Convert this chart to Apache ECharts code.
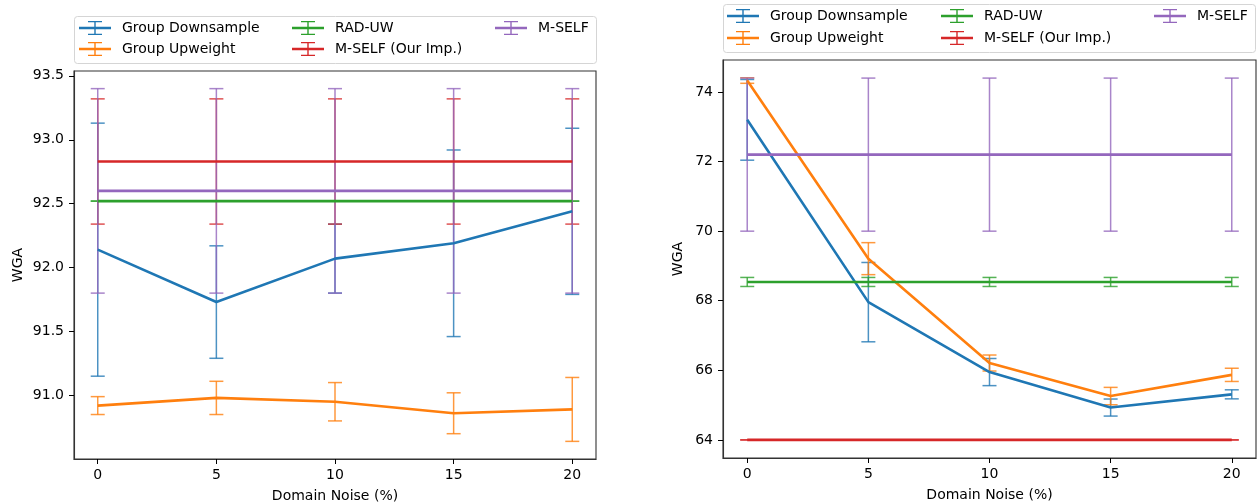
<!DOCTYPE html>
<html>
<head>
<meta charset="utf-8">
<script src="https://cdn.jsdelivr.net/npm/echarts@6/dist/echarts.min.js"></script>
<style>
html,body{margin:0;padding:0;background:#fff;}
#chart{width:1257px;height:504px;}
</style>
</head>
<body>
<div id="chart"></div>
<script>
// ---- data ----
const noise = [0, 5, 10, 15, 20];
const seriesNames = ['Group Downsample', 'Group Upweight', 'RAD-UW', 'M-SELF (Our Imp.)', 'M-SELF'];
const colors = ['#1f77b4', '#ff7f0e', '#2ca02c', '#d62728', '#9467bd'];
const xTicks = [0, 5, 10, 15, 20];

// left panel
const gdMeanL = [92.14, 91.73, 92.07, 92.19, 92.44];
const gdErrL = [0.99, 0.44, 0.27, 0.73, 0.65];
const guMeanL = [90.92, 90.98, 90.95, 90.86, 90.89];
const guErrL = [0.07, 0.13, 0.15, 0.16, 0.25];
const radMeanL = [92.52, 92.52, 92.52, 92.52, 92.52];
const radErrL = [0, 0, 0, 0, 0];
const oursMeanL = [92.83, 92.83, 92.83, 92.83, 92.83];
const oursErrL = [0.49, 0.49, 0.49, 0.49, 0.49];
const mselfMeanL = [92.6, 92.6, 92.6, 92.6, 92.6];
const mselfErrL = [0.8, 0.8, 0.8, 0.8, 0.8];
const yTicksL = [91.0, 91.5, 92.0, 92.5, 93.0, 93.5];

// right panel
const gdMeanR = [73.2, 67.96, 65.95, 64.93, 65.31];
const gdErrR = [1.16, 1.14, 0.39, 0.245, 0.13];
const guMeanR = [74.33, 69.21, 66.21, 65.26, 65.87];
const guErrR = [0.08, 0.46, 0.23, 0.25, 0.19];
const radMeanR = [68.54, 68.54, 68.54, 68.54, 68.54];
const radErrR = [0.13, 0.13, 0.13, 0.13, 0.13];
const oursMeanR = [64.0, 64.0, 64.0, 64.0, 64.0];
const oursErrR = [0, 0, 0, 0, 0];
const mselfMeanR = [72.2, 72.2, 72.2, 72.2, 72.2];
const mselfErrR = [2.2, 2.2, 2.2, 2.2, 2.2];
const yTicksR = [64, 66, 68, 70, 72, 74];

// ---- build ----
const FONT = 'DejaVu Sans';
const panels = [
  {means: [gdMeanL, guMeanL, radMeanL, oursMeanL, mselfMeanL], errs: [gdErrL, guErrL, radErrL, oursErrL, mselfErrL]},
  {means: [gdMeanR, guMeanR, radMeanR, oursMeanR, mselfMeanR], errs: [gdErrR, guErrR, radErrR, oursErrR, mselfErrR]}
];

function errRender(color) {
  return function (params, api) {
    const x = api.value(0), lo = api.value(1), hi = api.value(2);
    const p1 = api.coord([x, lo]);
    const p2 = api.coord([x, hi]);
    const style = {stroke: color, lineWidth: 1.5, opacity: 0.8};
    const cw = 7;
    return {
      type: 'group',
      children: [
        {type: 'line', shape: {x1: p1[0], y1: p1[1], x2: p2[0], y2: p2[1]}, style: style},
        {type: 'line', shape: {x1: p1[0] - cw, y1: p1[1], x2: p1[0] + cw, y2: p1[1]}, style: style},
        {type: 'line', shape: {x1: p2[0] - cw, y1: p2[1], x2: p2[0] + cw, y2: p2[1]}, style: style}
      ]
    };
  };
}

const series = [];
panels.forEach(function (p, pi) {
  seriesNames.forEach(function (name, si) {
    series.push({
      name: name,
      type: 'custom',
      xAxisIndex: pi, yAxisIndex: pi,
      renderItem: errRender(colors[si]),
      encode: {x: 0, y: [1, 2]},
      data: noise.map(function (x, i) { return [x, p.means[si][i] - p.errs[si][i], p.means[si][i] + p.errs[si][i]]; }),
      z: 2 + si * 0.01,
      silent: true,
      clip: false
    });
  });
  seriesNames.forEach(function (name, si) {
    series.push({
      name: name,
      type: 'line',
      xAxisIndex: pi, yAxisIndex: pi,
      data: noise.map(function (x, i) { return [x, p.means[si][i]]; }),
      symbol: 'none',
      lineStyle: {color: colors[si], width: 2.6},
      itemStyle: {color: colors[si]},
      z: 3 + si * 0.01,
      silent: true,
      animation: false
    });
  });
});

const axisText = {color: '#000', fontSize: 14, fontFamily: FONT};
function xAxis(gi) {
  return {
    type: 'value', gridIndex: gi, min: -1, max: 21,
    name: 'Domain Noise (%)', nameLocation: 'middle', nameGap: 30,
    nameTextStyle: axisText,
    axisLine: {show: true, onZero: false, lineStyle: {color: '#333', width: 1.1}},
    axisTick: {show: true, length: 5, lineStyle: {color: '#000', width: 1}, customValues: xTicks},
    axisLabel: Object.assign({margin: 9, customValues: xTicks}, axisText),
    splitLine: {show: false}
  };
}
function yAxis(gi, min, max, ticks, dec, gap) {
  return {
    type: 'value', gridIndex: gi, min: min, max: max,
    name: 'WGA', nameLocation: 'middle', nameGap: gap,
    nameTextStyle: axisText,
    axisLine: {show: true, onZero: false, lineStyle: {color: '#333', width: 1.1}},
    axisTick: {show: true, length: 5, lineStyle: {color: '#000', width: 1}, customValues: ticks},
    axisLabel: Object.assign({margin: 10, customValues: ticks, formatter: function (v) { return v.toFixed(dec); }}, axisText),
    splitLine: {show: false}
  };
}

const iconPath = 'path://M0,5.8H32V8.2H0Z M15.3,0.6H16.7V13.4H15.3Z M9,0H23V1.3H9Z M9,12.7H23V14H9Z M38,7L38,7Z';
const legendPos = [
  [[79, 28], [79, 49], [292, 28], [292, 49], [495, 28]],
  [[727, 16], [727, 38], [941, 16], [941, 38], [1154, 16]]
];
const legends = [];
legendPos.forEach(function (pos) {
  seriesNames.forEach(function (name, si) {
    legends.push({
      left: pos[si][0], top: pos[si][1] - 7, padding: 0,
      itemWidth: 38, itemHeight: 14, selectedMode: false,
      textStyle: {color: '#000', fontSize: 14, fontFamily: FONT},
      itemStyle: {borderWidth: 0},
      data: [{name: name, icon: iconPath, itemStyle: {color: colors[si], borderWidth: 0}}]
    });
  });
});

const option = {
  animation: false,
  backgroundColor: '#fff',
  grid: [
    {left: 74, top: 71, width: 522, height: 388, show: true, borderColor: '#333', borderWidth: 1.1, containLabel: false, outerBoundsMode: 'none'},
    {left: 723, top: 60, width: 533, height: 398, show: true, borderColor: '#333', borderWidth: 1.1, containLabel: false, outerBoundsMode: 'none'}
  ],
  xAxis: [xAxis(0), xAxis(1)],
  yAxis: [yAxis(0, 90.502, 93.538, yTicksL, 1, 49), yAxis(1, 63.48, 74.92, yTicksR, 0, 38)],
  legend: legends,
  graphic: [
    {type: 'rect', left: 74, top: 16, z: -1, shape: {width: 522, height: 47, r: 3}, style: {fill: '#fff', stroke: '#d5d5d5', lineWidth: 1}},
    {type: 'rect', left: 723, top: 4, z: -1, shape: {width: 532, height: 48, r: 3}, style: {fill: '#fff', stroke: '#d5d5d5', lineWidth: 1}}
  ],
  series: series
};

const chart = echarts.init(document.getElementById('chart'), null, {renderer: 'canvas'});
chart.setOption(option);
</script>
</body>
</html>
